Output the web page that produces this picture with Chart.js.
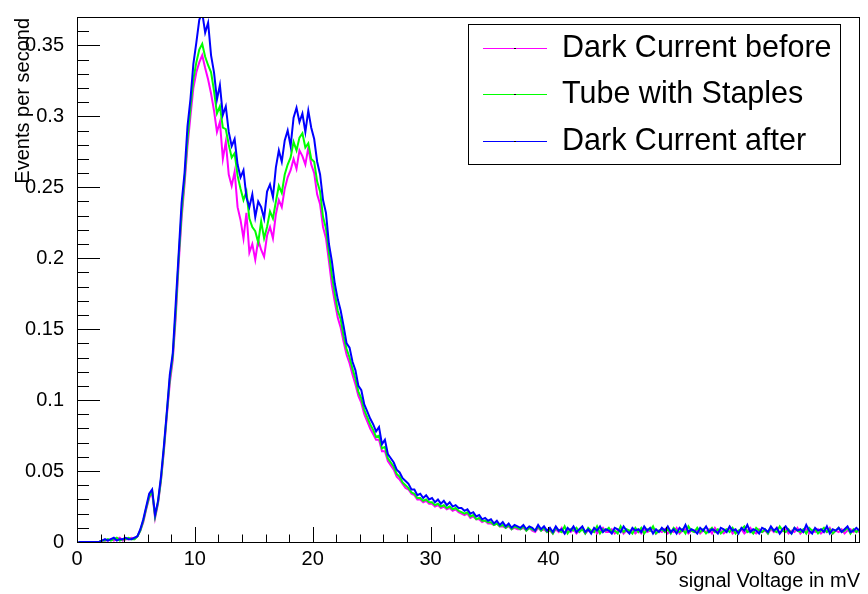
<!DOCTYPE html>
<html>
<head>
<meta charset="utf-8">
<title>Events per second</title>
<script src="https://cdn.jsdelivr.net/npm/chart.js@4.4.0/dist/chart.umd.min.js"></script>
<style>
  html, body { margin: 0; padding: 0; background: #fff; }
</style>
</head>
<body>
<canvas id="spectrum" width="868" height="594"></canvas>
<script>
// histogram binning, signal voltage in mV
const binWidth = 0.25;
const xMax = 66.35;
const yMax = 0.37;

const seriesLabels = ['Dark Current before', 'Tube with Staples', 'Dark Current after'];

// events per second, one value per 0.25 mV bin, starting at 0 mV (10 bins per row)
const darkBefore = [
  0, 0, 0, 0, 0, 0, 0, 0, .001, .001,
  .001, .002, .001, .002, .003, .001, .002, .002, .003, .002,
  .004, .008, .014, .023, .031, .035, .017, .027, .043, .064,
  .089, .112, .128, .158, .196, .228, .252, .279, .3, .32,
  .331, .338, .343, .334, .326, .316, .304, .289, .296, .27,
  .282, .259, .251, .261, .236, .227, .214, .232, .204, .21,
  .199, .213, .206, .201, .216, .222, .214, .231, .241, .236,
  .249, .257, .262, .27, .263, .276, .272, .266, .278, .266,
  .26, .245, .238, .222, .214, .198, .181, .169, .158, .151,
  .141, .132, .126, .118, .111, .103, .098, .09, .085, .08,
  .076, .072, .072, .064, .064, .057, .054, .051, .046, .044,
  .041, .038, .037, .034, .033, .03, .03, .028, .029, .027,
  .027, .025, .026, .024, .025, .023, .024, .022, .023, .021,
  .02, .019, .02, .017, .018, .016, .016, .014, .015, .013,
  .013, .012, .013, .011, .011, .01, .011, .009, .01, .009,
  .009, .01, .008, .01, .008, .007, .01, .008, .009, .007,
  .008, .006, .009, .007, .01, .006, .008, .007, .009, .006,
  .008, .01, .006, .008, .007, .009, .006, .008, .01, .007,
  .007, .009, .006, .008, .01, .006, .008, .007, .009, .006,
  .008, .006, .009, .007, .008, .01, .006, .008, .007, .009,
  .006, .008, .007, .01, .006, .008, .009, .006, .008, .007,
  .009, .006, .008, .007, .009, .006, .01, .007, .008, .006,
  .008, .01, .006, .008, .007, .009, .006, .008, .01, .007,
  .006, .009, .007, .008, .006, .009, .007, .01, .006, .008,
  .009, .006, .008, .007, .01, .006, .008, .009, .006, .008,
  .007, .009, .006, .008, .007, .01, .006, .008, .007, .009,
  .006, .008, .009, .007, .008, .007
];

const tubeStaples = [
  0, 0, 0, 0, 0, 0, 0, 0, .001, .001,
  .002, .001, .002, .003, .001, .002, .002, .003, .002, .002,
  .004, .008, .015, .024, .032, .036, .018, .028, .044, .066,
  .091, .115, .131, .162, .2, .232, .256, .284, .306, .326,
  .338, .347, .351, .342, .336, .331, .318, .302, .307, .292,
  .291, .28, .271, .274, .258, .249, .241, .247, .228, .222,
  .219, .211, .226, .214, .222, .233, .228, .24, .251, .246,
  .259, .266, .271, .282, .276, .285, .288, .278, .281, .27,
  .268, .254, .247, .229, .221, .204, .188, .175, .163, .157,
  .145, .136, .13, .122, .115, .106, .101, .093, .088, .083,
  .079, .074, .075, .066, .067, .059, .056, .053, .048, .046,
  .042, .04, .038, .035, .034, .031, .031, .029, .03, .028,
  .028, .026, .027, .025, .026, .024, .025, .023, .024, .022,
  .021, .02, .021, .018, .019, .016, .017, .015, .015, .014,
  .014, .012, .013, .011, .012, .01, .012, .009, .011, .01,
  .009, .011, .008, .01, .009, .008, .011, .008, .01, .007,
  .009, .006, .01, .008, .007, .011, .006, .009, .008, .01,
  .007, .009, .006, .01, .008, .007, .011, .006, .009, .008,
  .01, .007, .008, .006, .011, .007, .009, .008, .006, .01,
  .007, .01, .006, .009, .008, .011, .006, .008, .009, .007,
  .009, .006, .01, .008, .007, .009, .006, .011, .008, .007,
  .01, .007, .009, .006, .008, .01, .007, .009, .006, .008,
  .009, .007, .01, .006, .008, .009, .011, .007, .008, .006,
  .01, .008, .007, .009, .006, .01, .008, .007, .011, .008,
  .007, .009, .006, .01, .008, .007, .009, .006, .01, .008,
  .009, .006, .008, .01, .007, .009, .006, .008, .01, .007,
  .008, .01, .006, .009, .007, .009
];

const darkAfter = [
  0, 0, 0, 0, 0, 0, 0, 0, .001, .002,
  .001, .002, .003, .001, .002, .002, .003, .002, .002, .003,
  .004, .009, .016, .025, .034, .037, .019, .029, .046, .068,
  .092, .118, .133, .168, .203, .239, .26, .293, .312, .337,
  .352, .368, .373, .359, .366, .343, .331, .312, .322, .301,
  .307, .289, .279, .284, .266, .257, .262, .243, .236, .245,
  .229, .24, .236, .228, .247, .252, .243, .264, .276, .268,
  .283, .29, .279, .299, .306, .296, .302, .289, .304, .292,
  .284, .268, .259, .241, .232, .21, .198, .182, .171, .163,
  .152, .14, .137, .127, .121, .11, .107, .097, .092, .087,
  .083, .078, .081, .069, .072, .062, .059, .056, .051, .049,
  .045, .043, .041, .037, .037, .033, .034, .031, .033, .03,
  .031, .028, .03, .027, .029, .026, .028, .025, .026, .024,
  .024, .022, .023, .02, .021, .018, .019, .016, .017, .015,
  .016, .013, .015, .012, .014, .011, .013, .01, .012, .011,
  .01, .012, .009, .011, .01, .008, .012, .009, .011, .008,
  .01, .007, .011, .008, .009, .006, .01, .008, .011, .007,
  .009, .011, .007, .009, .006, .01, .008, .011, .007, .009,
  .008, .006, .01, .009, .007, .011, .008, .006, .01, .008,
  .009, .007, .011, .008, .01, .006, .009, .007, .01, .008,
  .011, .007, .009, .006, .01, .008, .012, .007, .009, .008,
  .006, .01, .008, .011, .007, .009, .008, .006, .01, .009,
  .007, .011, .008, .009, .006, .01, .008, .012, .007, .009,
  .008, .006, .01, .009, .007, .011, .008, .01, .006, .009,
  .011, .008, .006, .01, .008, .009, .007, .012, .008, .006,
  .01, .008, .009, .007, .011, .006, .009, .008, .01, .007,
  .009, .011, .007, .008, .01, .008
];

const FONT = '"Liberation Sans", Arial, Helvetica, sans-serif';

// bin values -> points at bin centres
function toPoints(values) {
  return values.map((v, i) => ({ x: (i + 0.5) * binWidth, y: v }));
}

function histo(label, values, color, order) {
  return {
    label: label,
    data: toPoints(values),
    borderColor: color,
    backgroundColor: color,
    borderWidth: 2,
    pointRadius: 0,
    tension: 0,
    fill: false,
    order: order
  };
}

// frame with inward ticks, axis titles
const frameTicks = {
  id: 'frameTicks',
  afterDatasetsDraw(chart) {
    const { ctx, chartArea: a, scales } = chart;
    const xs = scales.x, ys = scales.y;
    ctx.save();
    ctx.strokeStyle = '#000';
    ctx.lineWidth = 1;
    ctx.beginPath();
    for (let v = 0; v <= xMax; v += 2) {
      const px = Math.round(xs.getPixelForValue(v)) + 0.5;
      const len = v % 10 === 0 ? 15 : 7.5;
      ctx.moveTo(px, a.bottom);
      ctx.lineTo(px, a.bottom - len);
    }
    for (let k = 0; k / 100 <= yMax + 1e-9; k++) {
      const py = Math.round(ys.getPixelForValue(k / 100)) + 0.5;
      const len = k % 5 === 0 ? 23 : 12;
      ctx.moveTo(a.left, py);
      ctx.lineTo(a.left + len, py);
    }
    ctx.stroke();
    ctx.strokeRect(Math.round(a.left) + 0.5, Math.round(a.top) + 0.5,
      Math.round(a.right - a.left), Math.round(a.bottom - a.top));

    ctx.fillStyle = '#000';
    ctx.font = '20px ' + FONT;
    ctx.textAlign = 'right';
    ctx.textBaseline = 'alphabetic';
    ctx.fillText('signal Voltage in mV', a.right + 1, 587);

    ctx.translate(29, a.top + 1);
    ctx.rotate(-Math.PI / 2);
    ctx.fillText('Events per second', 0, 0);
    ctx.restore();
  },
  afterDraw(chart) {
    // legend box, top right
    const { ctx } = chart;
    const box = { x: 468.5, y: 24.5, w: 372, h: 140 };
    const rows = [48, 94, 141];
    ctx.save();
    ctx.fillStyle = '#fff';
    ctx.fillRect(box.x, box.y, box.w, box.h);
    ctx.strokeStyle = '#000';
    ctx.lineWidth = 1;
    ctx.strokeRect(box.x, box.y, box.w, box.h);
    ctx.font = '30.5px ' + FONT;
    ctx.textAlign = 'left';
    ctx.textBaseline = 'middle';
    chart.data.datasets.forEach((ds, i) => {
      const y = rows[i] + 0.5;
      ctx.strokeStyle = ds.borderColor;
      ctx.lineWidth = 1;
      ctx.beginPath();
      ctx.moveTo(483, y);
      ctx.lineTo(547, y);
      ctx.stroke();
      ctx.fillStyle = '#000';
      ctx.fillRect(514, y - 0.5, 2, 1);
      ctx.fillText(ds.label, 562, rows[i] + 1);
    });
    ctx.restore();
  }
};

new Chart(document.getElementById('spectrum').getContext('2d'), {
  type: 'line',
  data: {
    datasets: [
      histo(seriesLabels[0], darkBefore, '#ff00ff', 3),
      histo(seriesLabels[1], tubeStaples, '#00ff00', 2),
      histo(seriesLabels[2], darkAfter, '#0000ff', 1)
    ]
  },
  options: {
    responsive: false,
    animation: false,
    devicePixelRatio: 1,
    layout: { padding: { top: 11, right: 9, left: 0, bottom: 0 } },
    plugins: {
      legend: { display: false },
      tooltip: { enabled: false }
    },
    scales: {
      x: {
        type: 'linear',
        min: 0,
        max: xMax,
        grid: { display: false },
        border: { display: false },
        ticks: {
          stepSize: 10,
          includeBounds: false,
          autoSkip: false,
          maxRotation: 0,
          padding: -3,
          color: '#000',
          font: { family: FONT, size: 20 }
        },
        afterFit: s => { s.height = 52; }
      },
      y: {
        type: 'linear',
        min: 0,
        max: yMax,
        grid: { display: false },
        border: { display: false },
        ticks: {
          stepSize: 0.05,
          includeBounds: false,
          padding: 5,
          color: '#000',
          font: { family: FONT, size: 20 },
          callback: v => String(+v.toFixed(2))
        },
        afterFit: s => { s.width = 77; }
      }
    }
  },
  plugins: [frameTicks]
});
</script>
</body>
</html>
